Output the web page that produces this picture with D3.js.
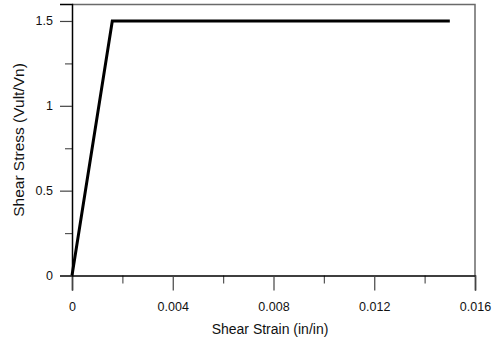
<!DOCTYPE html>
<html>
<head>
<meta charset="utf-8">
<script src="https://cdn.jsdelivr.net/npm/d3@7"></script>
<style>
  html, body { margin: 0; padding: 0; background: #fff; }
  svg { display: block; font-family: "Liberation Sans", Arial, sans-serif; }
</style>
</head>
<body>
<svg id="chart" width="494" height="341"></svg>
<script>
// Backbone curve: shear strain (in/in) vs normalized shear stress (Vult/Vn)
const strain = [0, 0.0016, 0.015];
const stress = [0, 1.5, 1.5];

const xMajorTicks = [0, 0.004, 0.008, 0.012, 0.016];
const xMajorLabels = ["0", "0.004", "0.008", "0.012", "0.016"];
const xMinorTicks = [0.002, 0.006, 0.010, 0.014];

const yMajorTicks = [0, 0.5, 1, 1.5];
const yMajorLabels = ["0", "0.5", "1", "1.5"];
const yMinorTicks = [0.25, 0.75, 1.25];

const xTitle = "Shear Strain (in/in)";
const yTitle = "Shear Stress (Vult/Vn)";

const svg = d3.select("#chart");
const plotLeft = 72, plotRight = 475, plotTop = 4, plotBottom = 275.5;

const x = d3.scaleLinear().domain([0, 0.016]).range([plotLeft, plotRight]);
const y = d3.scaleLinear().domain([0, 1.6]).range([plotBottom, plotTop]);

// frame (top and right edges)
svg.append("path")
  .attr("d", `M${plotLeft},${plotTop + 0.5}H${plotRight}V${plotBottom}`)
  .attr("fill", "none")
  .attr("stroke", "#6a6a6a")
  .attr("stroke-width", 1.5);

// minor ticks
svg.append("g")
  .attr("transform", `translate(0,${plotBottom})`)
  .call(d3.axisBottom(x).tickValues(xMinorTicks).tickSize(8).tickFormat(""))
  .call(g => g.select(".domain").remove())
  .call(g => g.selectAll(".tick line").attr("stroke", "#555").attr("stroke-width", 1.2));

svg.append("g")
  .attr("transform", `translate(${plotLeft},0)`)
  .call(d3.axisLeft(y).tickValues(yMinorTicks).tickSize(7).tickFormat(""))
  .call(g => g.select(".domain").remove())
  .call(g => g.selectAll(".tick line").attr("stroke", "#555").attr("stroke-width", 1.2));

// major axes
svg.append("g")
  .attr("transform", `translate(0,${plotBottom})`)
  .call(d3.axisBottom(x).tickValues(xMajorTicks).tickSize(15).tickPadding(12)
    .tickFormat((d, i) => xMajorLabels[i]))
  .call(g => g.select(".domain").attr("stroke", "#000").attr("stroke-width", 1.5))
  .call(g => g.selectAll(".tick line").attr("stroke", "#444").attr("stroke-width", 1.2))
  .call(g => g.selectAll(".tick text").attr("fill", "#111")
    .style("font-size", "12.5px").style("font-family", "Liberation Sans, Arial, sans-serif"));

svg.append("g")
  .attr("transform", `translate(${plotLeft},0)`)
  .call(d3.axisLeft(y).tickValues(yMajorTicks).tickSize(12).tickPadding(7)
    .tickFormat((d, i) => yMajorLabels[i]))
  .call(g => g.select(".domain").attr("stroke", "#000").attr("stroke-width", 1.5))
  .call(g => g.selectAll(".tick line").attr("stroke", "#444").attr("stroke-width", 1.2))
  .call(g => g.selectAll(".tick text").attr("fill", "#111")
    .style("font-size", "12.5px").style("font-family", "Liberation Sans, Arial, sans-serif"));

// axis titles
svg.append("text")
  .attr("x", 270)
  .attr("y", 334)
  .attr("text-anchor", "middle")
  .attr("fill", "#111")
  .style("font-size", "14px")
  .text(xTitle);

svg.append("text")
  .attr("transform", `translate(24,140) rotate(-90)`)
  .attr("text-anchor", "middle")
  .attr("fill", "#111")
  .style("font-size", "15.5px")
  .text(yTitle);

// data curve
const line = d3.line().x((d, i) => x(strain[i])).y((d, i) => y(stress[i]));
svg.append("path")
  .datum(strain)
  .attr("d", line)
  .attr("fill", "none")
  .attr("stroke", "#000")
  .attr("stroke-width", 3)
  .attr("stroke-linejoin", "miter");
</script>
</body>
</html>
